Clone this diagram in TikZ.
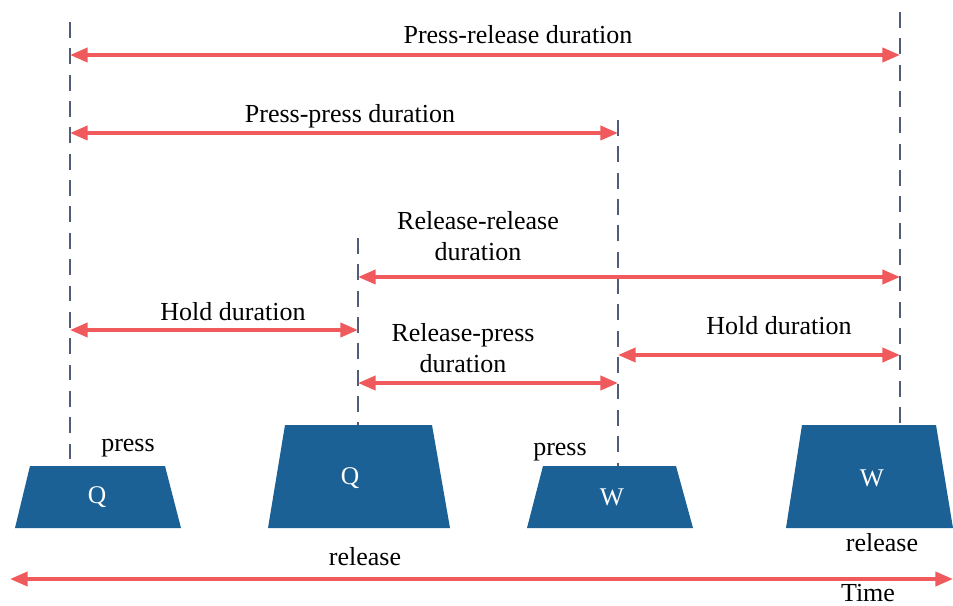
\documentclass[tikz,border=0pt]{standalone}
\usepackage{fontspec}
\setmainfont{Liberation Serif}
\usetikzlibrary{arrows.meta}
\definecolor{keyblue}{HTML}{1B6195}
\definecolor{spanred}{HTML}{F05A5C}
\definecolor{guidegray}{HTML}{4F5D78}
\tikzset{
  guide/.style={draw=guidegray, line width=1.3pt, dash pattern=on 9pt off 6pt},
  span/.style={draw=spanred, line width=2pt, {Triangle[length=10pt,width=8pt]}-{Triangle[length=10pt,width=8pt]}},
  axis/.style={draw=spanred, line width=2pt, {Triangle[length=10pt,width=8pt]}-{Triangle[length=10pt,width=8pt]}},
  lbl/.style={font=\fontsize{14.8}{17.5}\selectfont, align=center, inner sep=0pt},
  keylbl/.style={font=\fontsize{14.5}{17}\selectfont, text=white, inner sep=0pt},
  keyshape/.style={fill=keyblue}
}
\begin{document}
\begin{tikzpicture}[x=0.02cm, y=-0.02cm]
\useasboundingbox (0,0) rectangle (953,605);

% key caps (trapezoids)
\fill[keyshape] (30,466) -- (165,466) -- (181,528) -- (15,528) -- cycle;
\fill[keyshape] (285,425) -- (432,425) -- (450,528) -- (268,528) -- cycle;
\fill[keyshape] (543,466) -- (676,466) -- (693,528) -- (527,528) -- cycle;
\fill[keyshape] (802,425) -- (936,425) -- (953,528) -- (786,528) -- cycle;
\node[keylbl] (q1) at (97,497) {Q};
\node[keylbl] (q2) at (350,478) {Q};
\node[keylbl] (w1) at (612,497) {W};
\node[keylbl] (w2) at (872,478) {W};

% event guides
\coordinate (pQt) at (70,22);   \coordinate (pQb) at (70,462);
\coordinate (rQt) at (358,238); \coordinate (rQb) at (358,425);
\coordinate (pWt) at (618,120); \coordinate (pWb) at (618,466);
\coordinate (rWt) at (900,12);  \coordinate (rWb) at (900,425);
\draw[guide] (pQt) -- (pQb);
\draw[guide] (rQt) -- (rQb);
\draw[guide] (pWt) -- (pWb);
\draw[guide] (rWt) -- (rWb);

% duration spans
\coordinate (a1) at (70,55);   \coordinate (b1) at (900,55);
\coordinate (a2) at (70,133);  \coordinate (b2) at (618,133);
\coordinate (a3) at (358,277); \coordinate (b3) at (900,277);
\coordinate (a4) at (70,330);  \coordinate (b4) at (358,330);
\coordinate (a5) at (358,383); \coordinate (b5) at (618,383);
\coordinate (a6) at (618,355); \coordinate (b6) at (900,355);
\draw[span] (a1) -- (b1);
\draw[span] (a2) -- (b2);
\draw[span] (a3) -- (b3);
\draw[span] (a4) -- (b4);
\draw[span] (a5) -- (b5);
\draw[span] (a6) -- (b6);

\node[lbl] (t1) at (518,35) {Press-release duration};
\node[lbl] (t2) at (350,116) {Press-press duration};
\node[lbl] (t3) at (478,236) {Release-release\\duration};
\node[lbl] (t4) at (233,312) {Hold duration};
\node[lbl] (t5) at (463,348) {Release-press\\duration};
\node[lbl] (t6) at (779,326) {Hold duration};

% event labels
\node[lbl] (e1) at (128,448) {press};
\node[lbl] (e2) at (560,452) {press};
\node[lbl] (e3) at (365,557) {release};
\node[lbl] (e4) at (882,543) {release};

% time axis
\coordinate (tl) at (10,579);
\coordinate (tr) at (953,579);
\draw[axis] (tl) -- (tr);
\node[lbl] (time) at (868,593) {Time};
\end{tikzpicture}
\end{document}
